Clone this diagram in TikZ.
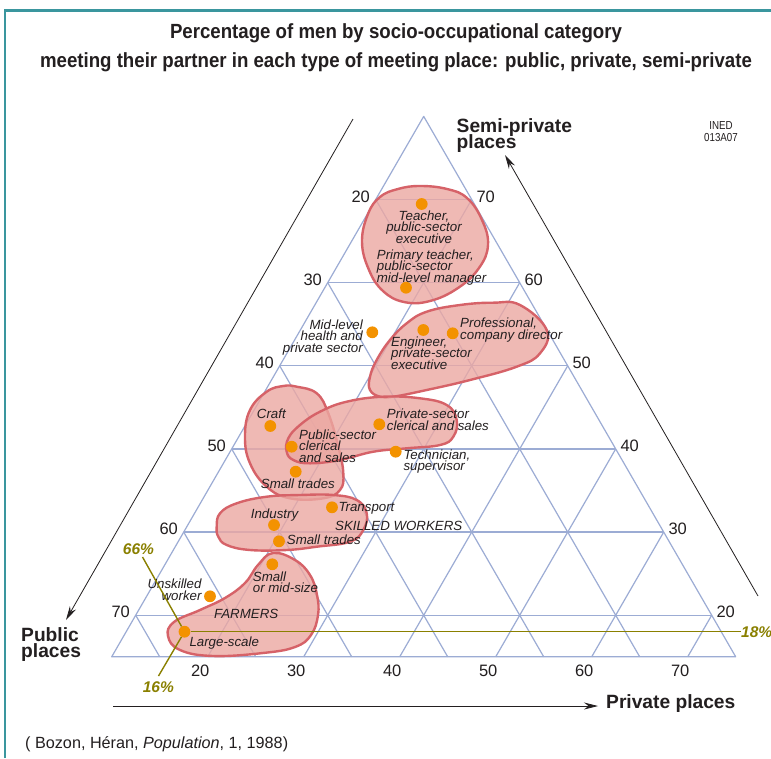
\documentclass[tikz,border=0pt]{standalone}
\usepackage{fontspec}
\setmainfont{Liberation Sans}
\newfontfamily\narrowfont[FakeStretch=0.84]{Liberation Sans}
\newfontfamily\titlefont[FakeStretch=0.91]{Liberation Sans}
\usetikzlibrary{arrows.meta}
\definecolor{gridc}{RGB}{156,172,212}
\definecolor{blobfill}{RGB}{236,168,162}
\definecolor{blobline}{RGB}{214,98,104}
\definecolor{dotc}{RGB}{243,146,0}
\definecolor{olivec}{RGB}{138,128,0}
\definecolor{txt}{RGB}{35,31,32}
\definecolor{framec}{RGB}{58,150,158}
\lineskiplimit=-20pt\relax
\begin{document}
\begin{tikzpicture}[x=1pt,y=-1pt,
  gridline/.style={draw=gridc,line width=1.2pt,line join=round},
  blob/.style={fill=blobfill,fill opacity=0.8,draw=blobline,line width=2.4pt},
  dot/.style={circle,fill=dotc,inner sep=0pt,minimum size=11.8pt},
  lab/.style={font=\fontsize{13.3}{11.6}\selectfont\itshape,text=txt,inner sep=0pt},
  tick/.style={font=\fontsize{16.5}{18}\selectfont,text=txt,inner sep=0pt},
  axlab/.style={font=\fontsize{19.2}{16.5}\selectfont\bfseries,text=txt,inner sep=0pt,align=left},
  axarrow/.style={draw=txt,line width=0.8pt,-{Stealth[length=14pt,width=7pt]}},
  pct/.style={font=\fontsize{15.5}{17}\selectfont\bfseries\itshape,text=olivec,inner sep=0pt},
  pctline/.style={draw=olivec,line width=1.4pt},
  titlestyle/.style={font=\titlefont\fontsize{20.5}{27}\selectfont\bfseries,text=txt,inner sep=0pt}]
\useasboundingbox (0,0) rectangle (771,758);
\fill[white] (0,0) rectangle (771,758);
% frame
\draw[framec,line width=2.5pt] (5,758) -- (5,10.5) -- (771,10.5);
% title
\node[titlestyle,anchor=base] (t1) at (396,38) {Percentage of men by socio-occupational category};
\node[titlestyle,anchor=base] (t2) at (396,67) {meeting their partner in each type of meeting place: public, private, semi-private};
\node[font=\narrowfont\fontsize{11.6}{12}\selectfont,text=txt,inner sep=0pt,align=center,anchor=north] (ined) at (721,121) {INED\\013A07};
% ternary grid
\begin{scope}[shift={(-56.3pt,-781.5pt)},x={(9.6pt,0pt)},y={(4.8pt,8.314pt)}]
  \foreach \v in {20,30,...,70}{
    \pgfmathtruncatemacro\w{90-\v}
    \pgfmathtruncatemacro\q{85-\v}
    \draw[gridline] (10,\v) -- (\w,\v);
    \draw[gridline] (\v,15) -- (\v,\w);
    \draw[gridline] (\q,15) -- (10,\w);
    \node[tick,xshift=-15pt,yshift=3pt] (L\v) at (10,\w) {\v};
    \node[tick,xshift=14pt,yshift=3pt] (R\v) at (\w,\v) {\v};
    \node[tick,xshift=-7.5pt,yshift=-14pt] (B\v) at (\v,15) {\v};
  }
  \draw[gridline] (10,15) -- (75,15) -- (10,80) -- cycle;
\end{scope}
% axes
\coordinate (la1) at (353,119); \coordinate (la2) at (66,620);
\draw[axarrow] (la1) -- (la2);
\coordinate (ra1) at (758,596); \coordinate (ra2) at (505,155);
\draw[axarrow] (ra1) -- (ra2);
\coordinate (ba1) at (113,706); \coordinate (ba2) at (598,706);
\draw[axarrow] (ba1) -- (ba2);
\node[axlab,anchor=north west] (semi) at (456.5,118) {Semi-private\\places};
\node[axlab,anchor=north west] (public) at (21,627) {Public\\places};
\node[axlab,anchor=base west] (private) at (606,708) {Private places};
% blobs
\draw[blob] plot[smooth cycle,tension=0.7] coordinates {(420,186) (447,189) (467,198) (482,220) (488,245) (479,268) (458,288) (430,301) (404,302) (383,291) (369,270) (362,242) (368,214) (380,197) (398,189)};
\draw[blob] plot[smooth cycle,tension=0.7] coordinates {(546.7,330) (520,305) (493.3,302.7) (460,305) (426.7,311.7) (406.7,323.3) (390,340) (376.7,360) (370,376.7) (370,390) (380,396.7) (393.3,396.7) (426.7,390) (470,380) (516.7,366.7) (540,353.3)};
\draw[blob] plot[smooth cycle,tension=0.7] coordinates {(296.7,386.7) (316.7,393.3) (328.3,413.3) (338.3,446.7) (343.3,473.3) (340,490) (323.3,498.3) (290,498.3) (266.7,486.7) (250,463.3) (245,436.7) (250,410) (266.7,391.7) (283.3,386)};
\draw[blob] plot[smooth cycle,tension=0.7] coordinates {(286.7,451.7) (293.3,460) (310,463.3) (340,460) (373.3,451.7) (406.7,448.3) (440,445) (453.3,436.7) (456.7,420) (446.7,405) (420,398.3) (383.3,396.7) (346.7,401.7) (320,411.7) (300,425) (288.3,438.3)};
\draw[blob] plot[smooth cycle,tension=0.7] coordinates {(216.7,526.7) (220,513.3) (236.7,503.3) (266.7,496.7) (300,495) (333.3,495) (356.7,500) (366.7,513.3) (363.3,530) (350,541.7) (316.7,546.7) (286.7,550) (250,550) (226.7,545) (218.3,536.7)};
\draw[blob] plot[smooth cycle,tension=0.7] coordinates {(273,553) (295,560) (310,575) (317,595) (318,615) (311,635) (295,647) (263,653) (213,656) (180,650) (168,636) (174,622) (200,610) (225,598) (245,583) (258,565)};
% dots
\node[dot] (d1) at (421.7,204) {};
\node[dot] (d2) at (406,287.7) {};
\node[dot] (d3) at (372.3,332.3) {};
\node[dot] (d4) at (423.3,330) {};
\node[dot] (d5) at (452.7,333.3) {};
\node[dot] (d6) at (270.3,426) {};
\node[dot] (d7) at (291.7,446.7) {};
\node[dot] (d8) at (379.3,424.3) {};
\node[dot] (d9) at (395.7,451.7) {};
\node[dot] (d10) at (295.7,471.7) {};
\node[dot] (d11) at (332,507.3) {};
\node[dot] (d12) at (274,525) {};
\node[dot] (d13) at (279,541.3) {};
\node[dot] (d14) at (272.3,564.3) {};
\node[dot] (d15) at (210,596.3) {};
\node[dot] (d16) at (184.5,631.7) {};
% labels
\node[lab,anchor=north,align=center] (n1) at (424,210.5) {Teacher,\\public-sector\\executive};
\node[lab,anchor=north west,align=left] (n2) at (376.7,249.5) {Primary teacher,\\public-sector\\mid-level manager};
\node[lab,anchor=north east,align=right] (n3) at (363,319.5) {Mid-level\\health and\\private sector};
\node[lab,anchor=north west,align=left] (n4) at (391,336.2) {Engineer,\\private-sector\\executive};
\node[lab,anchor=north west,align=left] (n5) at (460,318) {Professional,\\company director};
\node[lab,anchor=north west] (n6) at (256.7,408.3) {Craft};
\node[lab,anchor=north west,align=left] (n7) at (299,429.5) {Public-sector\\clerical\\and sales};
\node[lab,anchor=north west,align=left] (n8) at (386.7,409) {Private-sector\\clerical and sales};
\node[lab,anchor=north west,align=left] (n9) at (403.3,449.5) {Technician,\\supervisor};
\node[lab,anchor=north west] (n10) at (260.7,479) {Small trades};
\node[lab,anchor=north west] (n11) at (338.3,501.7) {Transport};
\node[lab,anchor=north west] (n12) at (335,520.7) {SKILLED WORKERS};
\node[lab,anchor=north west] (n13) at (250.7,508.3) {Industry};
\node[lab,anchor=north west] (n14) at (286.7,535) {Small trades};
\node[lab,anchor=north west,align=left] (n15) at (252.7,571.2) {Small\\or mid-size};
\node[lab,anchor=north east,align=right] (n16) at (201.7,579) {Unskilled\\worker};
\node[lab,anchor=north west] (n17) at (214,609) {FARMERS};
\node[lab,anchor=north west] (n18) at (189.3,636.7) {Large-scale};
% percentages
\node[pct,anchor=west] (p18) at (741,631.7) {18\%};
\node[pct] (p66) at (138.5,549) {66\%};
\node[pct] (p16) at (158.3,686.7) {16\%};
\coordinate (c66) at (142.5,557);
\coordinate (c16) at (158.5,676);
\draw[pctline] (d16) -- (d16 -| p18.west);
\draw[pctline] (d16) -- (c66);
\draw[pctline] (d16) -- (c16);
% source
\node[font=\fontsize{16.2}{18}\selectfont,text=txt,inner sep=0pt,anchor=base west] (src) at (25,748.5) {( Bozon, H\'eran, \textit{Population}, 1, 1988)};
\end{tikzpicture}
\end{document}
